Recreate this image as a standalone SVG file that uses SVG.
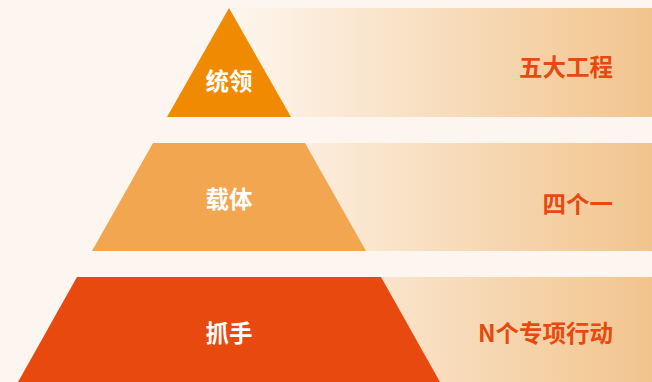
<svg xmlns="http://www.w3.org/2000/svg" width="652" height="382" viewBox="0 0 652 382">
<style>
.lbl{font-family:"Noto Sans CJK SC","Noto Sans",sans-serif;font-weight:bold;font-size:23.5px;fill:#ffffff;text-anchor:middle;dominant-baseline:central}
.rt{font-family:"Noto Sans CJK SC","Noto Sans",sans-serif;font-weight:bold;font-size:23.5px;fill:#e8490f;text-anchor:end;dominant-baseline:central}
</style>
<defs>
<linearGradient id="band" gradientUnits="userSpaceOnUse" x1="229" y1="0" x2="652" y2="0">
<stop offset="0" stop-color="#fef6ee"/>
<stop offset="1" stop-color="#f2c48d"/>
</linearGradient>
</defs>
<rect width="652" height="382" fill="#fdf6f0"/>
<g id="bands">
<rect x="229" y="8" width="423" height="109" fill="url(#band)"/>
<rect x="229" y="143" width="423" height="108" fill="url(#band)"/>
<rect x="229" y="277" width="423" height="105" fill="url(#band)"/>
</g>
<g id="tier1">
<polygon points="229,8 167,117 291,117" fill="#f08a00"/>
<text class="lbl" x="229" y="80">统领</text>
<text class="rt" x="613" y="66">五大工程</text>
</g>
<g id="tier2">
<polygon points="153,143 305,143 366,251 92,251" fill="#f2a650"/>
<text class="lbl" x="229" y="198">载体</text>
<text class="rt" x="613" y="203">四个一</text>
</g>
<g id="tier3">
<polygon points="77,277 381,277 440,382 18,382" fill="#e8490f"/>
<text class="lbl" x="229" y="332">抓手</text>
<text class="rt" x="613" y="332">N个专项行动</text>
</g>
<g id="connectors"/>
</svg>
